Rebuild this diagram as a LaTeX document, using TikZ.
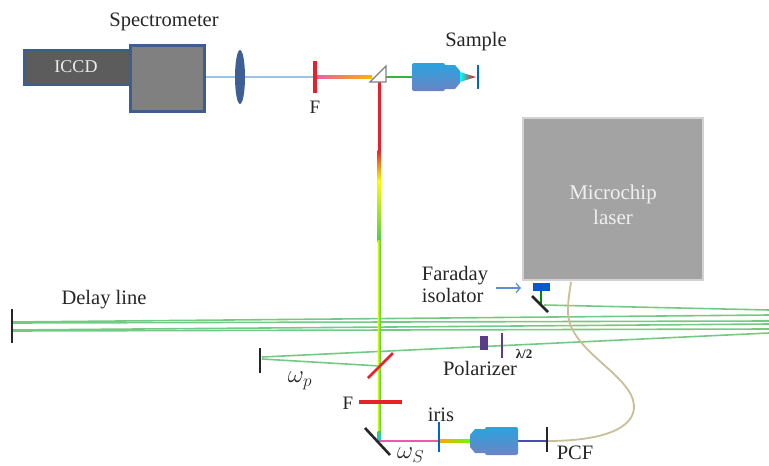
\documentclass[tikz,border=0pt]{standalone}
\usepackage{fontspec}
\setmainfont{Liberation Serif}
\usetikzlibrary{arrows.meta,calc}
\definecolor{boxblue}{HTML}{3C5F8D}
\definecolor{iccdgray}{HTML}{5C5C5C}
\definecolor{specgray}{HTML}{808080}
\definecolor{lasergray}{HTML}{A3A3A3}
\definecolor{lensblue}{HTML}{3D5F95}
\definecolor{probeblue}{HTML}{9CC3E6}
\definecolor{filterred}{HTML}{E8202A}
\definecolor{beamgreen}{HTML}{74C985}
\definecolor{fibertan}{HTML}{C9BE9A}
\definecolor{objtop}{HTML}{2AA3DE}
\definecolor{objbot}{HTML}{6B84C6}
\definecolor{optpurple}{HTML}{5B3C88}
\definecolor{arrowblue}{HTML}{5B8FD0}
\definecolor{stokespink}{HTML}{EE5AA5}
\tikzset{
  lbl/.style={font=\fontsize{20.5}{22}\selectfont, inner sep=0pt, text=black!85},
  housing/.style={draw=boxblue, line width=2.5pt},
  mirror/.style={line width=2.6pt, draw=black!85},
  redfilter/.style={line width=3.8pt, draw=filterred},
  pumpbeam/.style={line width=1.6pt, draw=beamgreen},
  objective/.pic={
    \shade[top color=objtop, bottom color=objbot, rounded corners=2pt] (0,-14) rectangle (33,14);
    \shade[top color=objtop, bottom color=objbot] (33,-12) -- (43,-12) -- (48,-6) -- (48,6) -- (43,12) -- (33,12) -- cycle;
  }
}
\begin{document}
\begin{tikzpicture}[x=1pt, y=-1pt]
  \useasboundingbox (0,0) rectangle (769,466);

  % optics positions
  \coordinate (lens) at (240,77);
  \coordinate (ftop) at (315,77);
  \coordinate (prism) at (379,77);
  \coordinate (objin) at (412,77);
  \coordinate (sample) at (478,77);
  \coordinate (dichro) at (380,366);
  \coordinate (bmirror) at (379,441);
  \coordinate (iris) at (439,441);
  \coordinate (objout) at (470,441);
  \coordinate (pcf) at (547,441);
  \coordinate (wpm) at (262,358);
  \coordinate (dlm) at (12,326);
  \coordinate (fmirror) at (544,305);
  \coordinate (edge) at (769,320);

  % pump beams: delay line and return path
  \draw[pumpbeam] (fmirror) -- ($(edge)+(0,-10)$);
  \foreach \yl/\yr in {-4/-5, -3/1, 4/4, 5/9}
    \draw[pumpbeam] ($(dlm)+(0,\yl)$) -- ($(edge)+(0,\yr)$);
  \draw[pumpbeam] ($(wpm)+(0,-1)$) -- ($(edge)+(0,13)$);
  \draw[pumpbeam] ($(wpm)+(0,1)$) -- (dichro);

  % probe beam towards the spectrometer
  \draw[probeblue, line width=2.5pt] (203,77) -- (ftop);
  \shade[left color=stokespink, right color=orange!60!yellow] (315,75.5) rectangle (372,78.5);
  \draw[green!65!black!80, line width=2.5pt] (386,77) -- (objin);

  % vertical beam from the prism down to the turning mirror
  \fill[filterred] (377.5,82) rectangle (380.5,152);
  \shade[top color=filterred, bottom color=yellow] (377.5,150) rectangle (380.5,182);
  \shade[top color=yellow, bottom color=green!70!black!70] (377.5,180) rectangle (380.5,242);
  \shade[left color=yellow!90!green, right color=green!70!black!70] (377.5,240) rectangle (380.5,433);
  \shade[top color=green!70!black!70, bottom color=cyan!80!blue] (377.5,431) rectangle (380.5,441);

  % Stokes beam along the bottom
  \draw[stokespink, line width=2.5pt] (bmirror) -- (iris);
  \shade[left color=orange!70!yellow, right color=green!60!yellow] (439,439.5) rectangle (470,442.5);
  \draw[blue!60!black!70, line width=2.5pt] (518,441) -- (pcf);

  % fibre from the laser to the PCF
  \draw[fibertan, line width=1.8pt] (pcf) .. controls (610,441) and (640,425) .. (633,400)
    .. controls (625,372) and (568,348) .. (568,312) .. controls (568,298) and (570,290) .. (571,282);

  % spectrometer and camera
  \node[housing, fill=iccdgray, minimum width=106, minimum height=34, anchor=north west] (iccd) at (23,49) {};
  \node[lbl, font=\fontsize{18}{20}\selectfont, text=white!85!gray] (iccdlbl) at (76,67) {ICCD};
  \node[housing, fill=specgray, minimum width=74, minimum height=66, anchor=north west] (spec) at (129,44) {};
  \node[lbl] (speclbl) at (164,22) {Spectrometer};

  \fill[lensblue] (lens) ellipse [x radius=5, y radius=27];
  \draw[redfilter] (315,61) -- (315,93);
  \node[lbl, font=\fontsize{19}{20}\selectfont] (flbl) at (315,107) {F};
  \draw[gray, line width=1.2pt, fill=white] (370,82) -- (386,82) -- (386,66) -- cycle;

  % objective focusing on the sample
  \pic at (objin) {objective};
  \shade[left color=cyan, middle color=yellow, right color=red] (460,72) -- (476,77) -- (460,82) -- cycle;
  \draw[blue!50!cyan!80!black, line width=2.5pt] (478,65) -- (478,89);
  \node[lbl] (samplelbl) at (476,42) {Sample};

  % pump laser
  \node[draw=gray!35, line width=2pt, fill=lasergray, minimum width=180, minimum height=162] (laser) at (613,199) {};
  \node[lbl, align=center, text=white!88!gray, font=\fontsize{21}{25}\selectfont] (laserlbl) at (613,205) {Microchip\\laser};

  % Faraday isolator and first mirror
  \fill[blue!55!cyan!80!black] (533,283) rectangle (550,291);
  \draw[green!55!black, line width=2pt] (541,291) -- (541,304);
  \draw[mirror] (532,296) -- (548,312);
  \draw[arrowblue, line width=1.3pt, -{Straight Barb[length=4pt,width=9pt]}] (496,288) -- (521,288);
  \node[lbl, align=left] (farlbl) at (455,284) {Faraday\\isolator};

  % delay line end mirror
  \draw[mirror] (12,309) -- (12,343);
  \node[lbl] (delaylbl) at (104,300) {Delay line};

  % polarizer and half-wave plate
  \fill[optpurple] (480,336) rectangle (488,350);
  \draw[optpurple, line width=2pt] (502,333) -- (502,358);
  \node[lbl, font=\bfseries\fontsize{13}{14}\selectfont] (halflbl) at (524,354) {λ/2};
  \node[lbl] (pollbl) at (480,368) {Polarizer};

  % pump mirror, dichroic, filter and turning mirror
  \draw[mirror] (260,348) -- (260,373);
  \node[lbl, font=\fontsize{25}{26}\selectfont] (wplbl) at (300,381) {$\omega_p$};
  \draw[filterred, line width=2.6pt] (368,378) -- (393,353);
  \draw[redfilter] (359,402) -- (402,402);
  \node[lbl, font=\fontsize{19}{20}\selectfont] (fbotlbl) at (348,403) {F};
  \draw[mirror] (365,428) -- (390,455);
  \node[lbl, anchor=west, font=\fontsize{25}{26}\selectfont] (wslbl) at (397,455) {$\omega_S$};

  % iris, coupling objective and fibre input
  \draw[blue!50!cyan!80!black, line width=2pt] (439,422) -- (439,452);
  \node[lbl] (irislbl) at (441,415) {iris};
  \pic[xscale=-1] at (518,441) {objective};
  \draw[black!85, line width=2.5pt] (547,427) -- (547,452);
  \node[lbl] (pcflbl) at (575,453) {PCF};
\end{tikzpicture}
\end{document}
